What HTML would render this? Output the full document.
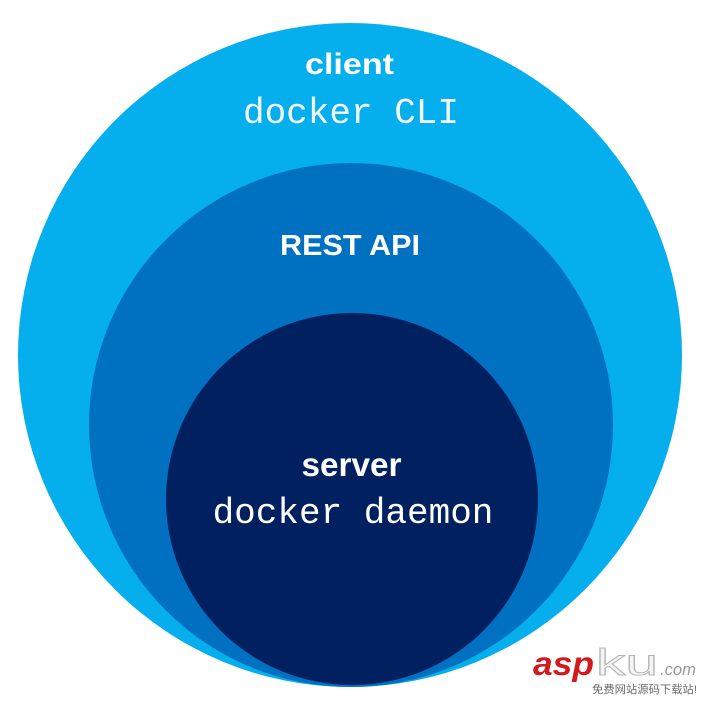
<!DOCTYPE html>
<html>
<head>
<meta charset="utf-8">
<style>
  html, body { margin: 0; padding: 0; background: #ffffff; }
  body { width: 702px; height: 702px; overflow: hidden; }
  svg { display: block; }
</style>
</head>
<body>
<svg width="702" height="702" viewBox="0 0 702 702" xmlns="http://www.w3.org/2000/svg">
  <rect x="0" y="0" width="702" height="702" fill="#ffffff"/>
  <!-- outer (client) -->
  <ellipse cx="350" cy="355" rx="332" ry="332" fill="#05AEEC"/>
  <!-- middle (REST API) -->
  <circle cx="351" cy="425" r="262" fill="#0070C0"/>
  <!-- inner (server) -->
  <circle cx="352" cy="499" r="186" fill="#00205F"/>

  <!-- labels -->
  <text x="349.5" y="74" text-anchor="middle" font-family="'Liberation Sans', sans-serif" font-weight="bold" font-size="30" fill="#ffffff" textLength="89" lengthAdjust="spacingAndGlyphs">client</text>
  <text x="351" y="123" text-anchor="middle" font-family="'Liberation Mono', monospace" font-size="36" fill="#f4fbff">docker CLI</text>

  <text x="350" y="255" text-anchor="middle" font-family="'Liberation Sans', sans-serif" font-weight="bold" font-size="29" fill="#ffffff" textLength="140" lengthAdjust="spacingAndGlyphs">REST API</text>

  <text x="351.5" y="476" text-anchor="middle" font-family="'Liberation Sans', sans-serif" font-weight="bold" font-size="33" fill="#ffffff" textLength="100" lengthAdjust="spacingAndGlyphs">server</text>
  <text x="353" y="523" text-anchor="middle" font-family="'Liberation Mono', monospace" font-size="36" fill="#ffffff">docker daemon</text>

  <!-- watermark -->
  <text x="533" y="675" font-family="'Liberation Sans', sans-serif" font-weight="bold" font-style="italic" font-size="33" fill="#D2191E" textLength="61" lengthAdjust="spacingAndGlyphs">asp</text>
  <text x="596" y="675" font-family="'Liberation Sans', sans-serif" font-size="37" fill="#f4f4f4" stroke="#b5b5b5" stroke-width="0.9" textLength="62" lengthAdjust="spacingAndGlyphs">ku</text>
  <text x="660" y="675" font-family="'Liberation Sans', sans-serif" font-style="italic" font-size="17" fill="#9a9a9a" textLength="36" lengthAdjust="spacingAndGlyphs">.com</text>
  <text x="592" y="693" font-family="'Liberation Sans', 'Noto Sans CJK SC', sans-serif" font-size="11" fill="#6a6a6a" stroke="#ffffff" stroke-width="1.5" paint-order="stroke" textLength="105" lengthAdjust="spacingAndGlyphs">免费网站源码下载站!</text>
</svg>
</body>
</html>
